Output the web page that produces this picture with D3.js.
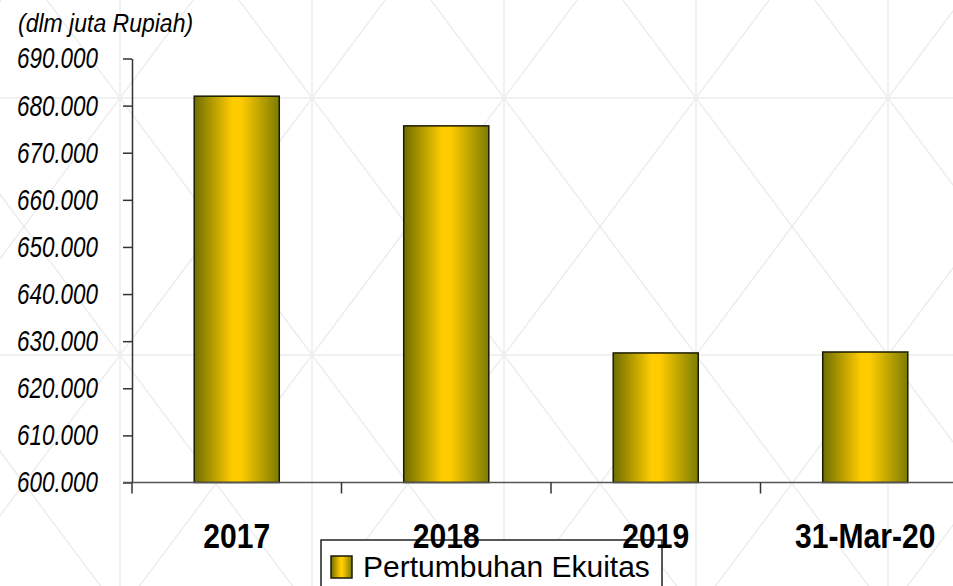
<!DOCTYPE html>
<html>
<head>
<meta charset="utf-8">
<script src="https://cdn.jsdelivr.net/npm/d3@7/dist/d3.min.js"></script>
<style>
  html, body { margin: 0; padding: 0; background: #fff; }
  svg { display: block; font-family: "Liberation Sans", Arial, sans-serif; }
</style>
</head>
<body>
<svg id="chart" width="953" height="586"></svg>
<script>
// data, in juta Rupiah
var categories = ["2017", "2018", "2019", "31-Mar-20"];
var ekuitas = [682000, 675700, 627500, 627700];
var yTicks = [600000, 610000, 620000, 630000, 640000, 650000, 660000, 670000, 680000, 690000];
var seriesName = "Pertumbuhan Ekuitas";
var unitLabel = "(dlm juta Rupiah)";

var W = 953, H = 586;
var svg = d3.select('#chart');

// Indonesian number format: 690.000
var idFmt = d3.formatLocale({ decimal: ",", thousands: ".", grouping: [3], currency: ["Rp", ""] }).format(",");

var y = d3.scaleLinear().domain([600000, 690000]).range([482.5, 58.5]);
var x = d3.scaleBand().domain(categories).range([132, 970]).padding(0);
var barW = x.bandwidth() * 0.406;

// gradient for the bars
var defs = svg.append('defs');
var grad = defs.append('linearGradient').attr('id', 'gold').attr('x1', 0).attr('x2', 1).attr('y1', 0).attr('y2', 0);
grad.append('stop').attr('offset', '0%').attr('stop-color', '#6e6e00');
grad.append('stop').attr('offset', '45%').attr('stop-color', '#ffcc00');
grad.append('stop').attr('offset', '55%').attr('stop-color', '#ffcc00');
grad.append('stop').attr('offset', '100%').attr('stop-color', '#7c7c00');

// background lattice (faint)
var bg = svg.append('g').attr('stroke', '#ededed').attr('stroke-width', 1.5).attr('fill', 'none');
var cx0 = 120, cy0 = 98, dx = 192, dy = 257, sl = dy / dx;
d3.range(-1, 6).forEach(function(k){
	bg.append('line').attr('x1', cx0 + k*dx).attr('x2', cx0 + k*dx).attr('y1', 0).attr('y2', H);
});
d3.range(-1, 3).forEach(function(m){
	bg.append('line').attr('x1', 0).attr('x2', W).attr('y1', cy0 + m*dy).attr('y2', cy0 + m*dy);
});
d3.range(-6, 10).forEach(function(k){
	var px = cx0 + k*dx;
	bg.append('line').attr('x1', px - 400/sl).attr('y1', cy0 - 400).attr('x2', px + 900/sl).attr('y2', cy0 + 900);
	bg.append('line').attr('x1', px + 400/sl).attr('y1', cy0 - 400).attr('x2', px - 900/sl).attr('y2', cy0 + 900);
});

// bars
svg.append('g').selectAll('rect').data(ekuitas).enter().append('rect')
	.attr('x', function(d, i){ return x(categories[i]) + (x.bandwidth() - barW) / 2; })
	.attr('y', function(d){ return y(d); })
	.attr('width', barW)
	.attr('height', function(d){ return y(600000) - y(d); })
	.attr('fill', 'url(#gold)')
	.attr('stroke', '#1a1a00')
	.attr('stroke-width', 1.5);

// y axis
var ySx = 0.76;
var yAxis = svg.append('g').attr('transform', 'translate(132,0)')
	.call(d3.axisLeft(y).tickValues(yTicks).tickFormat(idFmt).tickSize(9).tickPadding(25).tickSizeOuter(0));
yAxis.select('.domain').attr('stroke', '#333').attr('stroke-width', 1.5);
yAxis.selectAll('.tick line').attr('stroke', '#333').attr('stroke-width', 1.5);
yAxis.selectAll('.tick text')
	.attr('font-size', 29.5).attr('font-style', 'italic').attr('fill', '#000')
	.attr('x', -34 / ySx).attr('transform', 'scale(' + ySx + ',1)');

// x axis line (extends from the 600.000 tick to the right edge)
svg.append('line').attr('x1', 123).attr('x2', W).attr('y1', y(600000)).attr('y2', y(600000))
	.attr('stroke', '#555').attr('stroke-width', 1.5);
svg.append('g').selectAll('line').data(categories).enter().append('line')
	.attr('x1', function(d){ return x(d); }).attr('x2', function(d){ return x(d); })
	.attr('y1', y(600000)).attr('y2', y(600000) + 11)
	.attr('stroke', '#333').attr('stroke-width', 1.5);

// unit label
svg.append('text').attr('transform', 'translate(18,32) scale(0.92,1)')
	.attr('font-size', 25).attr('font-style', 'italic').text(unitLabel);

// legend
var lg = svg.append('g');
lg.append('rect').attr('x', 321).attr('y', 540).attr('width', 341).attr('height', 70)
	.attr('fill', '#fff').attr('stroke', '#222').attr('stroke-width', 1.5);
lg.append('rect').attr('x', 331).attr('y', 556).attr('width', 21).attr('height', 22)
	.attr('fill', 'url(#gold)').attr('stroke', '#1a1a00').attr('stroke-width', 1.5);
lg.append('text').attr('x', 363).attr('y', 577).attr('font-size', 30).text(seriesName);

// category labels
var cSx = 0.86;
svg.append('g').selectAll('text').data(categories).enter().append('text')
	.attr('transform', function(d){ return 'translate(' + (x(d) + x.bandwidth()/2) + ',548) scale(' + cSx + ',1)'; })
	.attr('text-anchor', 'middle').attr('font-size', 35).attr('font-weight', 'bold')
	.text(function(d){ return d; });
</script>
</body>
</html>
